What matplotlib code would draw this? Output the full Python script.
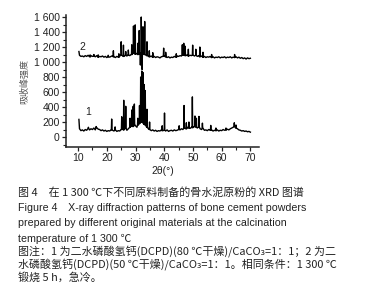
import numpy as np
import matplotlib
matplotlib.use("Agg")
import matplotlib.pyplot as plt
from matplotlib.ticker import MultipleLocator, FixedLocator

# ---------------- data ----------------
grid_start = 10.5
grid_step = 0.5

# pattern 1 (DCPD dried at 80 C) baseline, every 0.5 deg from 10.5 to 70
base1 = [110, 85, 95, 80, 100, 90, 115, 95, 110, 100,
         120, 95, 125, 105, 100, 85, 95, 80, 90, 75,
         85, 80, 95, 90, 80, 95, 75, 85, 80, 100,
         110, 95, 120, 90, 110, 130, 150, 140, 170, 150,
         130, 160, 180, 200, 190, 170, 160, 130, 110, 100,
         85, 95, 80, 90, 75, 85, 80, 95, 85, 90,
         80, 95, 75, 85, 90, 80, 95, 85, 90, 100,
         95, 110, 100, 120, 110, 130, 120, 115, 130, 125,
         140, 130, 120, 135, 110, 100, 115, 90, 95, 85,
         100, 90, 95, 80, 90, 85, 95, 80, 90, 85,
         100, 90, 95, 105, 95, 110, 120, 130, 140, 120,
         110, 95, 90, 80, 85, 75, 80, 70, 75, 65]
peaks1_pos = [10.3, 13.6, 16.3, 21.7, 22.9, 25.2, 25.9, 26.6, 28.1, 28.7,
              29.2, 29.6, 30.8, 31.4, 31.8, 32.2, 32.6, 33.0, 33.4, 34.0,
              34.9, 39.3, 40.1, 45.2, 46.9, 47.7, 48.6, 49.8, 50.7, 51.2,
              52.1, 53.3, 56.2, 58.0, 61.5, 64.4, 65.0]
peaks1_int = [235, 130, 140, 240, 135, 270, 490, 410, 250, 360,
              410, 440, 250, 420, 800, 880, 860, 700, 620, 370,
              200, 150, 320, 150, 420, 190, 200, 535, 280, 250,
              275, 185, 155, 120, 120, 190, 160]

# pattern 2 (DCPD dried at 50 C) baseline, every 0.5 deg from 10.5 to 70
base2 = [1090, 1075, 1080, 1070, 1085, 1075, 1090, 1070, 1085, 1075,
         1080, 1070, 1085, 1065, 1075, 1070, 1080, 1065, 1075, 1060,
         1070, 1065, 1075, 1085, 1070, 1060, 1075, 1065, 1080, 1090,
         1085, 1075, 1090, 1080, 1095, 1085, 1100, 1110, 1120, 1105,
         1115, 1100, 1110, 1120, 1110, 1100, 1095, 1085, 1080, 1070,
         1080, 1065, 1075, 1060, 1070, 1065, 1055, 1070, 1075, 1080,
         1070, 1060, 1070, 1055, 1065, 1060, 1075, 1065, 1080, 1075,
         1085, 1080, 1095, 1090, 1085, 1095, 1080, 1090, 1085, 1095,
         1080, 1090, 1075, 1085, 1070, 1080, 1065, 1075, 1060, 1070,
         1065, 1075, 1060, 1070, 1055, 1065, 1060, 1070, 1055, 1065,
         1060, 1070, 1055, 1065, 1060, 1070, 1055, 1065, 1060, 1070,
         1055, 1065, 1050, 1060, 1045, 1055, 1040, 1055, 1045, 1050]
peaks2_pos = [10.3, 14.2, 15.5, 17.0, 20.5, 22.3, 24.2, 25.0, 25.8, 26.6,
              27.5, 28.7, 29.3, 29.9, 30.8, 31.3, 31.7, 32.0, 32.3, 32.6,
              33.2, 34.0, 34.8, 36.0, 39.8, 40.5, 44.2, 46.3, 46.8, 47.3,
              48.4, 49.9, 51.0, 52.4, 53.5, 56.5, 64.5]
peaks2_int = [1140, 1095, 1100, 1095, 1090, 1150, 1110, 1270, 1225, 1140,
              1160, 1230, 1480, 1495, 1250, 1420, 960, 1600, 900, 1470,
              1540, 1270, 1150, 1125, 1185, 1130, 1110, 1230, 1250, 1210,
              1170, 1225, 1170, 1200, 1130, 1100, 1100]

curve_labels = ["1", "2"]
label_pos = [(13.4, 340), (11.6, 1205)]

xticks = [10, 20, 30, 40, 50, 60, 70]
yticks = [0, 200, 400, 600, 800, 1000, 1200, 1400, 1600]
ytick_labels = ["0", "200", "400", "600", "800", "1 000", "1 200", "1 400", "1 600"]

caption_lines = [
    "图 4　在 1 300 ℃下不同原料制备的骨水泥原粉的 XRD 图谱",
    "Figure 4　X-ray diffraction patterns of bone cement powders",
    "prepared by different original materials at the calcination",
    "temperature of 1 300 ℃",
    "图注：1 为二水磷酸氢钙(DCPD)(80 ℃干燥)/CaCO₃=1：1；2 为二",
    "水磷酸氢钙(DCPD)(50 ℃干燥)/CaCO₃=1：1。相同条件：1 300 ℃",
    "锻烧 5 h，急冷。",
]


def build(base, ppos, pint):
    gx = [grid_start + grid_step * i for i in range(len(base))]
    pts = list(zip(gx, base))
    for p, h in zip(ppos, pint):
        if p < gx[0]:
            pts.append((p, h))
            continue
        k = int(np.argmin([abs(g - p) for g in gx]))
        b = base[k]
        pts += [(p - 0.1, b), (p, h), (p + 0.1, b)]
    pts.sort(key=lambda t: t[0])
    return [t[0] for t in pts], [t[1] for t in pts]


CJK = ['Noto Sans CJK SC', 'DejaVu Sans']
LAT = ['Liberation Sans', 'Noto Sans CJK SC', 'DejaVu Sans']

fig = plt.figure(figsize=(3.65, 3.0), dpi=100)
ax = fig.add_axes([66 / 365, 1 - 147 / 300, (259 - 66) / 365, (147 - 15) / 300])

x1, y1 = build(base1, peaks1_pos, peaks1_int)
x2, y2 = build(base2, peaks2_pos, peaks2_int)
ax.plot(x1, y1, color='black', lw=1.0)
ax.plot(x2, y2, color='black', lw=1.0)
for t, (px, py) in zip(curve_labels, label_pos):
    ax.text(px, py, t, fontsize=7.5, family=LAT, color='#222222', ha='center', va='center')

ax.set_xlim(5.8, 73)
ax.set_ylim(-133, 1627)
ax.spines['top'].set_visible(False)
ax.spines['right'].set_visible(False)
for s in ('left', 'bottom'):
    ax.spines[s].set_linewidth(1.1)
    ax.spines[s].set_color('#222222')

ax.xaxis.set_major_locator(FixedLocator(xticks))
ax.xaxis.set_minor_locator(MultipleLocator(5))
ax.set_yticks(yticks)
ax.set_yticklabels(ytick_labels)
ax.yaxis.set_minor_locator(MultipleLocator(100))
ax.tick_params(which='major', direction='out', length=3, width=0.9, labelsize=7.5,
               colors='#222222', pad=1.5)
ax.tick_params(which='minor', direction='out', length=2, width=0.8, colors='#222222')
for lab in ax.get_xticklabels() + ax.get_yticklabels():
    lab.set_family(LAT)

ax.set_xlabel("2θ(°)", fontsize=7.5, family=LAT, color='#222222', labelpad=2)
ax.set_ylabel("吸收峰强度", fontsize=6.5, family=CJK, color='#555555', labelpad=3)

cap_y = [193, 208, 223, 239, 251, 264, 277]
cap_fam = [CJK, LAT, LAT, LAT, CJK, CJK, CJK]
cap_size = [7.9, 7.7, 7.7, 7.7, 7.9, 7.9, 7.9]
for t, y, f, s in zip(caption_lines, cap_y, cap_fam, cap_size):
    fig.text(18 / 365, 1 - y / 300, t, fontsize=s, family=f, color='#222222',
             ha='left', va='center')

fig.savefig("out.png", dpi=100)
